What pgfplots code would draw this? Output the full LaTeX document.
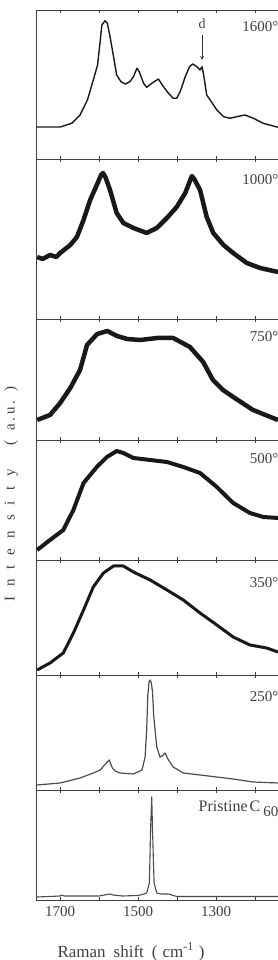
\documentclass[border=0pt]{standalone}
\usepackage{fontspec}
\setmainfont{Liberation Serif}
\usepackage{pgfplots}
\pgfplotsset{compat=1.18}
\pgfplotsset{panel/.style={
  width=242pt, scale only axis, anchor=south west,
  xmin=1141, xmax=1762, x dir=reverse, ymin=0,
  axis x line*=box, axis y line*=left,
  axis line style={-, black!75, line width=0.8pt},
  xtick={1200,1300,...,1700}, xticklabels={},
  ytick=\empty,
  tick style={black!75, line width=0.8pt},
  major tick length=3pt, tick align=inside,
}}
\newcommand{\ls}{\hspace{10pt}}
\begin{document}
\begin{tikzpicture}
\useasboundingbox (0pt,0pt) rectangle (278pt,960pt);
% 1600
\begin{axis}[panel, at={(36pt,801pt)}, height=149pt, ymax=149]
\addplot[black!90, line width=1.4pt, line join=round] coordinates {
(1759,32) (1700,32) (1670,35.7) (1649,44) (1630,59) (1615,79) (1604,94) (1597,119) (1593,134) (1585,138.3) (1579,135.7) (1572,122.3) (1563,102.3) (1555,84) (1544,77.3) (1533,75) (1521,77.3) (1512,82.3) (1503,90.7) (1497,87.3) (1486,75.7) (1478,71.7) (1465,75.7) (1448,80) (1435,72.3) (1422,65.7) (1410,60.7) (1401,60.7) (1392,67.3) (1379,82.3) (1368,92.3) (1360,95) (1349,92.3) (1341,89) (1336,92.3) (1331,82.3) (1324,64) (1315,59) (1298,49) (1281,42.3) (1264,40.7) (1247,42.3) (1226,44) (1204,40.7) (1179,35.7) (1141,31.7)};
\draw[-stealth, black!80, line width=0.8pt] (axis cs:1336,124) -- (axis cs:1336,99);
\node[font=\fontsize{14}{14}\selectfont, text=black!75] at (axis cs:1336,135) {d};
\end{axis}
% 1000
\begin{axis}[panel, at={(36pt,641pt)}, height=160pt, ymax=160]
\addplot[black!90, line width=4.5pt, line join=round] coordinates {
(1759,62) (1745,60) (1726,64) (1710,62) (1700,66) (1674,74) (1657,82) (1640,99) (1623,119) (1606,134) (1595,144) (1590,146) (1584,142) (1572,129) (1555,106) (1538,96) (1512,91) (1478,86) (1452,91) (1426,101) (1401,112) (1379,126) (1362,143) (1356,140) (1341,129) (1324,102) (1307,86) (1281,74) (1256,66) (1221,56) (1187,51) (1141,47)};
\end{axis}
% 750
\begin{axis}[panel, at={(36pt,520pt)}, height=121pt, ymax=121]
\addplot[black!90, line width=4.5pt, line join=round] coordinates {
(1759,20) (1726,25) (1700,37) (1674,52) (1649,70) (1631,95) (1605,106) (1579,109) (1554,104) (1528,101) (1495,100) (1451,102) (1410,102) (1367,93) (1333,78) (1308,60) (1282,50) (1256,43) (1205,30) (1141,20)};
\end{axis}
% 500
\begin{axis}[panel, at={(36pt,400pt)}, height=120pt, ymax=120]
\addplot[black!90, line width=4pt, line join=round] coordinates {
(1759,10) (1726,20) (1692,30) (1666,50) (1640,77) (1606,93) (1580,103) (1555,109) (1538,107) (1512,102) (1469,100) (1426,98) (1384,93) (1341,87) (1298,73) (1256,57) (1213,47) (1179,43) (1141,42)};
\end{axis}
% 350
\begin{axis}[panel, at={(36pt,285pt)}, height=115pt, ymax=115]
\addplot[black!90, line width=3pt, line join=round] coordinates {
(1759,5) (1726,12) (1692,22) (1666,42) (1640,65) (1615,88) (1589,102) (1563,109) (1538,109) (1512,103) (1469,95) (1426,85) (1384,75) (1341,62) (1298,50) (1256,38) (1213,30) (1170,27) (1141,23)};
\end{axis}
% 250
\begin{axis}[panel, at={(36pt,170pt)}, height=115pt, ymax=115]
\addplot[black!70, line width=1.2pt, line join=round] coordinates {
(1759,5) (1700,7) (1649,12) (1615,17) (1597,20) (1584,26) (1574,30) (1566,22) (1559,19) (1546,17) (1512,16) (1490,20) (1482,33) (1478,60) (1475,95) (1472,108) (1469,110) (1466,107) (1463,98) (1460,75) (1456,58) (1452,43) (1444,33) (1438,34) (1431,37) (1426,33) (1422,30) (1410,23) (1384,17) (1341,15) (1298,13) (1256,11) (1205,8) (1141,7)};
\end{axis}
% pristine
\begin{axis}[panel, at={(36pt,60pt)}, height=110pt, ymax=110,
  xticklabels={,1300,,1500,,1700},
  xticklabel style={font=\fontsize{15}{15}\selectfont, text=black!75, yshift=-3pt}]
\addplot[black!70, line width=1.1pt, line join=round] coordinates {
(1759,3) (1700,4) (1695,5) (1690,4) (1640,4) (1600,4) (1580,5.5) (1572,6) (1565,5) (1540,4) (1500,4.5) (1485,6) (1478,7) (1471,17) (1468,70) (1465,103) (1463,70) (1459,17) (1452,7) (1440,6) (1422,6) (1410,4.5) (1400,3.5) (1141,3.5)};
\end{axis}
% labels
\begin{scope}[every node/.style={text=black!75, inner sep=0pt}]
\node[anchor=east, font=\fontsize{15}{15}\selectfont] at (278.5pt,933pt) {1600°};
\node[anchor=east, font=\fontsize{15}{15}\selectfont] at (278.5pt,780pt) {1000°};
\node[anchor=east, font=\fontsize{15}{15}\selectfont] at (278.5pt,623pt) {750°};
\node[anchor=east, font=\fontsize{15}{15}\selectfont] at (278.5pt,501pt) {500°};
\node[anchor=east, font=\fontsize{15}{15}\selectfont] at (278.5pt,377pt) {350°};
\node[anchor=east, font=\fontsize{15}{15}\selectfont] at (278.5pt,263pt) {250°};
\node[anchor=east, font=\fontsize{16}{16}\selectfont] at (278.5pt,151pt) {Pristine\hspace{2pt}C\hspace{3pt}\raisebox{-5pt}{\fontsize{15}{15}\selectfont 60}};
\node[rotate=90, font=\fontsize{15}{15}\selectfont] at (11pt,466pt) {I\ls n\ls t\ls e\ls n\ls s\ls i\ls t\ls y\hspace{24pt}(\ls a\,.\,u\,.\ls )};
\node[font=\fontsize{17}{17}\selectfont] at (131pt,8pt) {Raman\hspace{8pt}shift\hspace{8pt}(\hspace{5pt}cm\textsuperscript{-1}\hspace{5pt})};
\end{scope}
\end{tikzpicture}
\end{document}
